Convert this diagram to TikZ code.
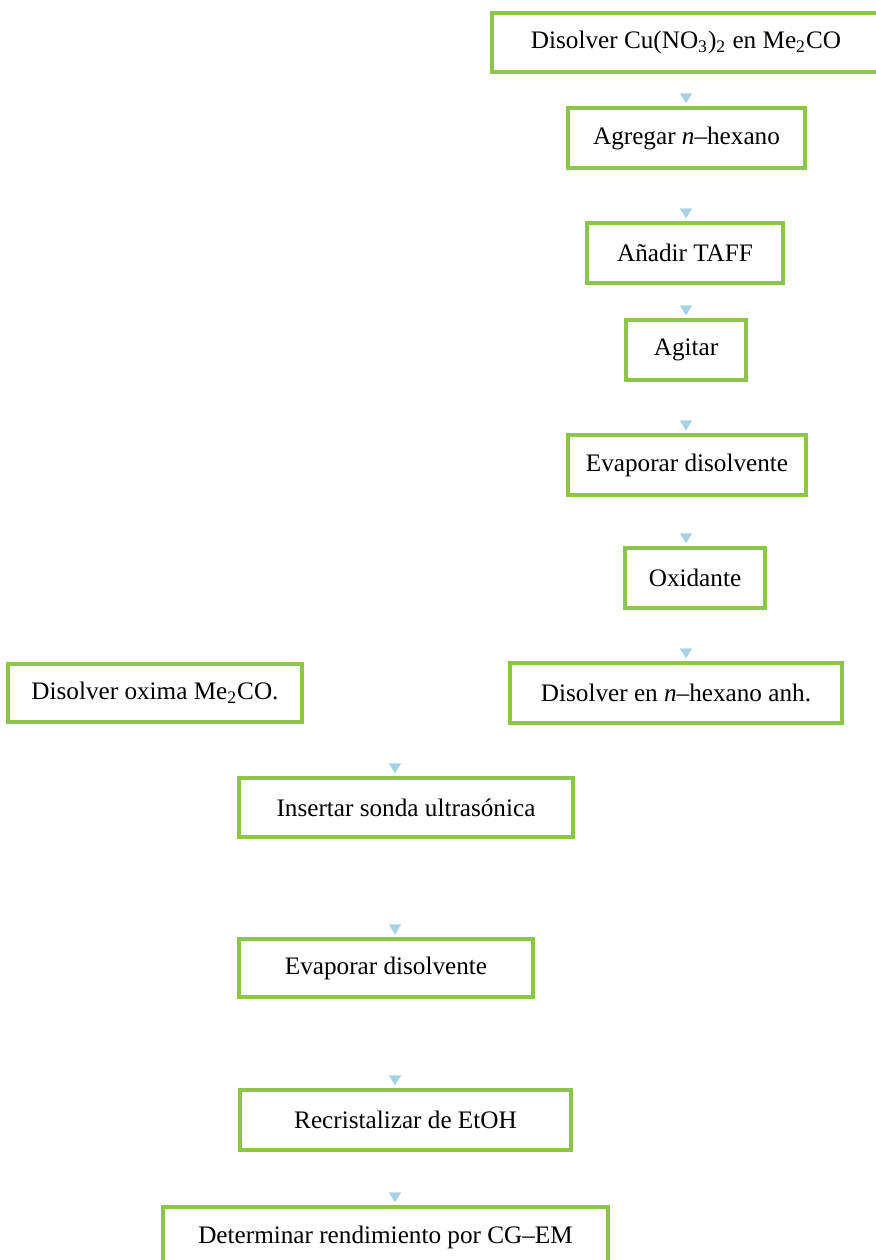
\documentclass[tikz,border=0pt]{standalone}
\usepackage{fontspec}
\setmainfont{Liberation Serif}
\usepackage{tikz}
\usetikzlibrary{arrows.meta}
\definecolor{boxgreen}{RGB}{140,198,72}
\definecolor{tipblue}{RGB}{165,210,228}

\begin{document}
\begin{tikzpicture}[x=0.5pt,y=-0.5pt,
        paso/.style={draw=boxgreen,line width=1.7pt,fill=white,inner sep=0pt,
            font=\fontsize{12.6}{15}\selectfont},
        flow/.style={draw=white,line width=0.2pt,
            -{Triangle[width=6pt,length=5pt,color=tipblue]},shorten >=1.5pt}]
        \useasboundingbox[fill=white] (0,0) rectangle (875,1260);

        \coordinate (colR) at (686,0);
        \coordinate (colL) at (395,0);

        \node[paso,minimum width=194pt,minimum height=29.5pt] (cu) at (686,42.5) {Disolver Cu(NO\textsubscript{3})\textsubscript{2} en Me\textsubscript{2}CO};
        \node[paso,minimum width=118.5pt,minimum height=30pt] (agr) at (686.5,138) {Agregar \textit{n}--hexano};
        \node[paso,minimum width=98pt,minimum height=30pt] (taff) at (685,253) {Añadir TAFF};
        \node[paso,minimum width=60pt,minimum height=30pt] (agi) at (686,350) {Agitar};
        \node[paso,minimum width=119pt,minimum height=30pt] (eva) at (687,465) {Evaporar disolvente};
        \node[paso,minimum width=70pt,minimum height=30pt] (oxi) at (695,578) {Oxidante};
        \node[paso,minimum width=166pt,minimum height=30pt] (hex) at (676,693) {Disolver en \textit{n}--hexano anh.};
        \node[paso,minimum width=147pt,minimum height=29pt] (oxm) at (155,693) {Disolver oxima Me\textsubscript{2}CO.};
        \node[paso,minimum width=167pt,minimum height=29.5pt] (son) at (406,807.5) {Insertar sonda ultrasónica};
        \node[paso,minimum width=147pt,minimum height=29pt] (evb) at (386,968) {Evaporar disolvente};
        \node[paso,minimum width=165.5pt,minimum height=30pt] (rec) at (405.5,1120) {Recristalizar de EtOH};
        \node[paso,minimum width=222.5pt,minimum height=30pt] (cgem) at (385.5,1237) {Determinar rendimiento por CG--EM};

        \draw[flow] (cu.south -| colR) -- (agr.north -| colR);
        \draw[flow] (agr.south -| colR) -- (taff.north -| colR);
        \draw[flow] (taff.south -| colR) -- (agi.north -| colR);
        \draw[flow] (agi.south -| colR) -- (eva.north -| colR);
        \draw[flow] (eva.south -| colR) -- (oxi.north -| colR);
        \draw[flow] (oxi.south -| colR) -- (hex.north -| colR);
        \draw[flow] (hex.south -| colL) -- (son.north -| colL);
        \draw[flow] (son.south -| colL) -- (evb.north -| colL);
        \draw[flow] (evb.south -| colL) -- (rec.north -| colL);
        \draw[flow] (rec.south -| colL) -- (cgem.north -| colL);
    \end{tikzpicture}
\end{document}
